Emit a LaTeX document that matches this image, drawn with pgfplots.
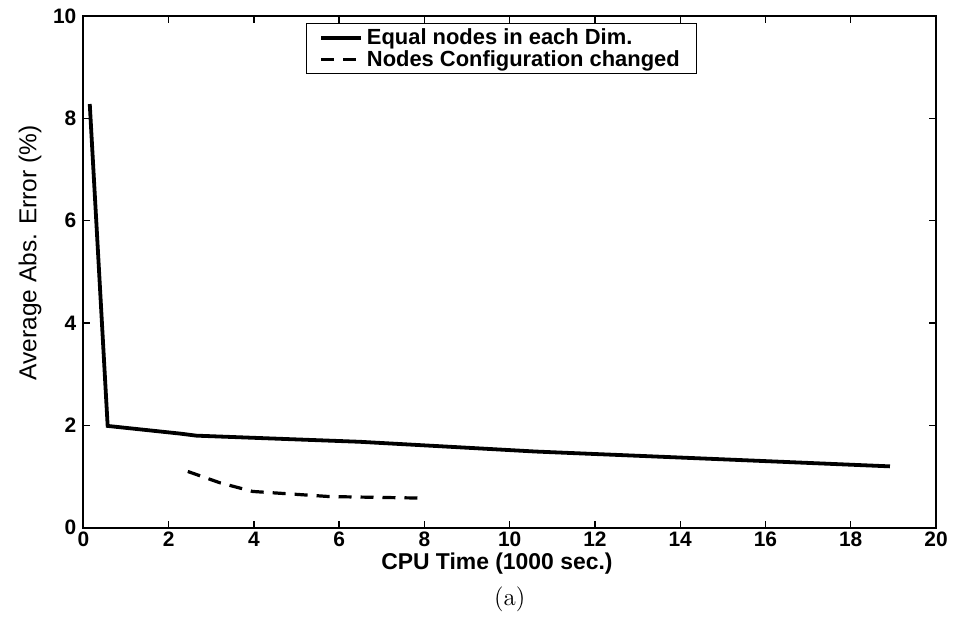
\documentclass[border=0pt]{standalone}
\usepackage{pgfplots}
\pgfplotsset{compat=1.18}
\usepackage{fontspec}
\setmainfont{Liberation Sans}
\newfontfamily\serifrm{Latin Modern Roman}
\begin{document}
\begin{tikzpicture}
\begin{axis}[
  scale only axis,
  width=426.5bp, height=256bp,
  xmin=0, xmax=20, ymin=0, ymax=10,
  xtick={0,2,...,20}, ytick={0,2,...,10},
  tick align=inside,
  major tick length=3.5bp,
  axis line style={line width=0.9bp},
  tick style={line width=0.7bp, black},
  /pgf/number format/assume math mode=true,
  ticklabel style={font=\fontsize{10.5}{11}\selectfont\bfseries},
  xticklabel style={yshift=1.5bp},
  xlabel={\bfseries CPU Time (1000 sec.)},
  xlabel style={font=\fontsize{11.5}{12}\selectfont, at={(axis description cs:0.485,0)}, anchor=center, yshift=-17.8bp},
  ylabel={Average Abs. Error (\%)},
  ylabel style={font=\fontsize{12.3}{13}\selectfont, at={(axis description cs:-0.0626,0.537)}, anchor=center},
  legend style={at={(axis description cs:0.261,0.986)}, anchor=north west,
    font=\fontsize{11}{10}\selectfont\bfseries, draw=black, line width=0.6bp,
    inner xsep=6.5bp, inner ysep=0.3bp, row sep=-2.5bp, legend cell align=left},
  legend image code/.code={\draw[#1] (0cm,0cm) -- (0.7cm,0cm);},
  /tikz/every even column/.append style={column sep=9bp},
]
\addplot[black, line width=1.9bp] coordinates {
 (0.15,8.28) (0.57,1.99) (2.27,1.84) (2.65,1.80) (6.49,1.68) (10.6,1.49) (14.93,1.34) (18.92,1.20)
};
\addlegendentry{Equal nodes in each Dim.}
\addplot[black, line width=1.6bp, dash pattern=on 6.5bp off 4.5bp] coordinates {
 (2.45,1.10) (3.2,0.88) (3.97,0.71) (5.77,0.61) (7.92,0.58)
};
\addlegendentry{Nodes Configuration changed}
\end{axis}
\node[font=\serifrm\fontsize{12.5}{14}\selectfont] at ([yshift=-36bp]current axis.south) {(a)};
\pgfresetboundingbox
\path[use as bounding box] ([xshift=-41.7bp,yshift=-49.7bp]current axis.south west) rectangle ([xshift=9bp,yshift=8bp]current axis.north east);
\end{tikzpicture}
\end{document}
